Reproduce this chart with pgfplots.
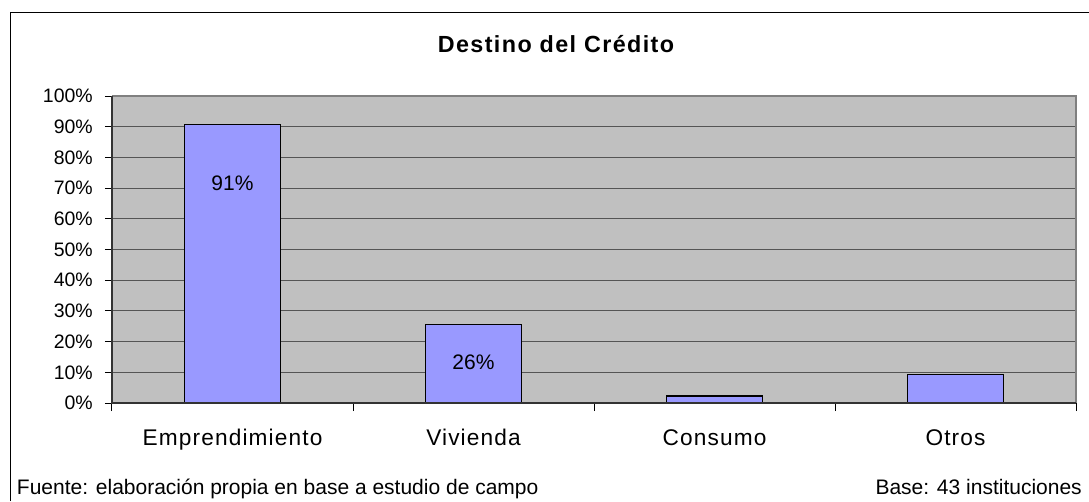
\documentclass[border=0pt]{standalone}
\usepackage{pgfplots}
\pgfplotsset{compat=1.18}
\usepackage{fontspec}
\setmainfont{Liberation Sans}
\newfontfamily\catfont[LetterSpace=5]{Liberation Sans}
\newfontfamily\titlefont[LetterSpace=6]{Liberation Sans}
\definecolor{plotbg}{HTML}{C0C0C0}
\definecolor{barfill}{HTML}{9999FF}
\definecolor{gridc}{HTML}{555555}
\definecolor{borderc}{HTML}{808080}
\begin{document}
\begin{tikzpicture}[x=1pt,y=1pt]
\path[use as bounding box] (0,0) rectangle (816.75,375.75);
\draw[black, line width=0.75pt] (7.5,0) -- (7.5,366) -- (816.75,366);
\node[font=\titlefont\bfseries\fontsize{17.5}{20}\selectfont, anchor=base, inner sep=0pt] at (417,336.2) {Destino del Crédito};
\node[font=\fontsize{15.75}{18}\selectfont, anchor=base west, inner sep=0pt] at (12.5,4.7) {Fuente: elaboración propia en base a estudio de campo};
\node[font=\fontsize{15.75}{18}\selectfont, anchor=base east, inner sep=0pt] at (811.5,4.7) {Base: 43 instituciones};
\begin{axis}[
  at={(84pt,73.5pt)}, anchor=south west, scale only axis,
  width=723pt, height=230.25pt,
  xmin=-0.5, xmax=3.5, ymin=0, ymax=100,
  ytick={0,10,...,100},
  yticklabels={0\%,10\%,20\%,30\%,40\%,50\%,60\%,70\%,80\%,90\%,100\%},
  xtick={0,1,2,3},
  xticklabels={Emprendimiento,Vivienda,Consumo,Otros},
  minor xtick={-0.5,0.5,1.5,2.5,3.5},
  major x tick style={draw=none},
  tick align=outside, xtick pos=bottom, ytick pos=left,
  major tick length=5.25pt, minor tick length=6pt,
  tick style={black, line width=0.75pt},
  ymajorgrids, grid style={gridc, line width=0.75pt},
  axis background/.style={fill=plotbg},
  axis line style={draw=none},
  yticklabel style={font=\fontsize{14.6}{16}\selectfont, anchor=east, inner sep=0pt, xshift=-9pt},
  xticklabel style={font=\catfont\fontsize{17}{19}\selectfont, anchor=base, inner sep=0pt, yshift=-26.25pt},
  clip=false,
]
\addplot[ybar, bar width=0.4, fill=barfill, draw=black, line width=1.1pt]
  coordinates {(0,90.7) (1,25.6) (2,2.3) (3,9.3)};
\draw[borderc, line width=1.5pt] (rel axis cs:0,1) -- (rel axis cs:1,1) -- (rel axis cs:1,0);
\draw[black!80, line width=0.9pt] (rel axis cs:0,1) -- (rel axis cs:0,0) -- (rel axis cs:1,0);
\node[font=\fontsize{15.75}{18}\selectfont, inner sep=0pt] at (axis cs:0,71.7) {91\%};
\node[font=\fontsize{15.75}{18}\selectfont, inner sep=0pt] at (axis cs:1,13.4) {26\%};
\end{axis}
\end{tikzpicture}
\end{document}
